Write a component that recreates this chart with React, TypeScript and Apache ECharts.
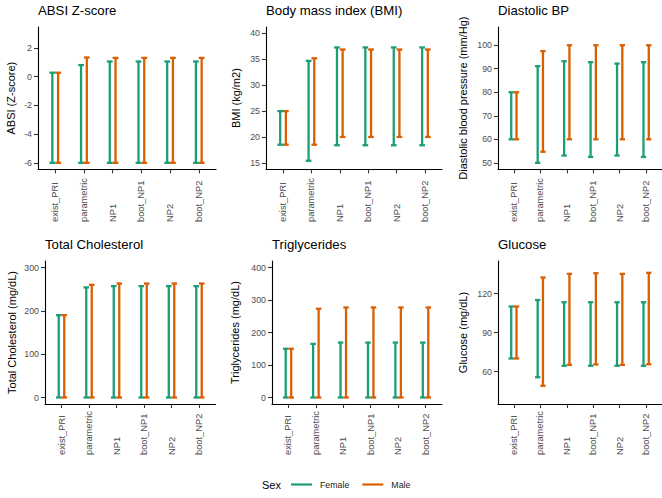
import React, { useEffect, useRef } from "react";
import * as echarts from "echarts";

const categories = ["exist_PRI", "parametric", "NP1", "boot_NP1", "NP2", "boot_NP2"];

// ABSI Z-score
const absiFemaleLow = [-6, -6, -6, -6, -6, -6];
const absiFemaleHigh = [0.27, 0.8, 1.05, 1.05, 1.05, 1.05];
const absiMaleLow = [-6, -6, -6, -6, -6, -6];
const absiMaleHigh = [0.27, 1.33, 1.3, 1.3, 1.3, 1.3];
const absiTicks = [-6, -4, -2, 0, 2];

// BMI
const bmiFemaleLow = [18.5, 15.4, 18.4, 18.4, 18.4, 18.4];
const bmiFemaleHigh = [25, 34.7, 37.3, 37.3, 37.3, 37.3];
const bmiMaleLow = [18.5, 18.5, 20, 20, 20, 20];
const bmiMaleHigh = [25, 35.2, 36.9, 36.9, 36.9, 36.9];
const bmiTicks = [15, 20, 25, 30, 35, 40];

// Diastolic BP
const dbpFemaleLow = [60, 50, 53.1, 52.5, 53.1, 52.5];
const dbpFemaleHigh = [80, 91.1, 93.2, 92.8, 92.2, 92.8];
const dbpMaleLow = [60, 54.7, 60, 60, 60, 60];
const dbpMaleHigh = [80, 97.5, 100, 100, 100, 100];
const dbpTicks = [50, 60, 70, 80, 90, 100];

// Total Cholesterol
const tcFemaleLow = [0, 0, 0, 0, 0, 0];
const tcFemaleHigh = [190, 254, 257, 257, 257, 257];
const tcMaleLow = [0, 0, 0, 0, 0, 0];
const tcMaleHigh = [190, 260, 263, 263, 263, 263];
const tcTicks = [0, 100, 200, 300];

// Triglycerides
const tgFemaleLow = [0, 0, 0, 0, 0, 0];
const tgFemaleHigh = [150, 165, 169, 169, 169, 169];
const tgMaleLow = [0, 0, 0, 0, 0, 0];
const tgMaleHigh = [150, 273, 277, 277, 277, 277];
const tgTicks = [0, 100, 200, 300, 400];

// Glucose
const gluFemaleLow = [70, 55.6, 64.4, 64.4, 64.4, 64.4];
const gluFemaleHigh = [110, 115, 113.3, 113.3, 113.3, 113.3];
const gluMaleLow = [70, 49, 65.1, 65.4, 65.1, 65.6];
const gluMaleHigh = [110, 132.3, 135.1, 135.6, 135.1, 135.9];
const gluTicks = [60, 90, 120];

const FEMALE = "#1B9E77";
const MALE = "#D95F02";
const FONT = "Liberation Sans, Arial, sans-serif";

const panels = [
  { title: "ABSI Z-score", yName: "ABSI (Z-score)", fl: absiFemaleLow, fh: absiFemaleHigh, ml: absiMaleLow, mh: absiMaleHigh, ticks: absiTicks, min: -6.45, max: 3.45, grid: { left: 38, top: 27, width: 178, height: 142.3 }, nameGap: 22, labelMargin: 52.7 },
  { title: "Body mass index (BMI)", yName: "BMI (kg/m2)", fl: bmiFemaleLow, fh: bmiFemaleHigh, ml: bmiMaleLow, mh: bmiMaleHigh, ticks: bmiTicks, min: 13.75, max: 41.25, grid: { left: 266, top: 27, width: 176, height: 142.3 }, nameGap: 25, labelMargin: 52.7 },
  { title: "Diastolic BP", yName: "Diastolic blood pressure (mm/Hg)", fl: dbpFemaleLow, fh: dbpFemaleHigh, ml: dbpMaleLow, mh: dbpMaleHigh, ticks: dbpTicks, min: 47.25, max: 107.75, grid: { left: 498, top: 27, width: 171.5, height: 142.3 }, nameGap: 30, labelMargin: 52.7 },
  { title: "Total Cholesterol", yName: "Total Cholesterol (mg/dL)", fl: tcFemaleLow, fh: tcFemaleHigh, ml: tcMaleLow, mh: tcMaleHigh, ticks: tcTicks, min: -15, max: 315, grid: { left: 45, top: 261, width: 170.5, height: 143 }, nameGap: 28, labelMargin: 51 },
  { title: "Triglycerides", yName: "Triglycerides (mg/dL)", fl: tgFemaleLow, fh: tgFemaleHigh, ml: tgMaleLow, mh: tgMaleHigh, ticks: tgTicks, min: -20, max: 420, grid: { left: 272, top: 261, width: 170, height: 143 }, nameGap: 32, labelMargin: 51 },
  { title: "Glucose", yName: "Glucose (mg/dL)", fl: gluFemaleLow, fh: gluFemaleHigh, ml: gluMaleLow, mh: gluMaleHigh, ticks: gluTicks, min: 35, max: 145, grid: { left: 498, top: 261, width: 171.5, height: 143 }, nameGap: 30, labelMargin: 51 },
];

const catIdx = categories.map((_, i) => i);

function makeRender(offset: number, color: string) {
  return (params: any, api: any) => {
    const x = api.value(0) + offset;
    const lo = api.coord([x, api.value(1)]);
    const hi = api.coord([x, api.value(2)]);
    const hw = api.size([0.1, 0])[0];
    const style = { stroke: color, lineWidth: 2.3, fill: null };
    return {
      type: "group",
      children: [
        { type: "line", shape: { x1: lo[0], y1: lo[1], x2: hi[0], y2: hi[1] }, style },
        { type: "line", shape: { x1: lo[0] - hw, y1: lo[1], x2: lo[0] + hw, y2: lo[1] }, style },
        { type: "line", shape: { x1: hi[0] - hw, y1: hi[1], x2: hi[0] + hw, y2: hi[1] }, style },
      ],
    };
  };
}

export default function App() {
  const ref = useRef<HTMLDivElement>(null);
  useEffect(() => {
    if (!ref.current) return;
    const chart = echarts.init(ref.current, null, { renderer: "svg" });
    const grids: any[] = [];
    const xAxes: any[] = [];
    const yAxes: any[] = [];
    const series: any[] = [];
    const titles: any[] = [];
    panels.forEach((p, i) => {
      grids.push({ ...p.grid, containLabel: false });
      titles.push({
        text: p.title,
        left: p.grid.left,
        top: p.grid.top - 23,
        padding: 0,
        textStyle: { fontFamily: FONT, fontSize: 13.2, fontWeight: "normal", color: "#000" },
      });
      xAxes.push({
        type: "value",
        gridIndex: i,
        min: -0.6,
        max: 5.6,
        splitLine: { show: false },
        axisLine: { show: true, onZero: false, lineStyle: { color: "#000", width: 1.1 } },
        axisTick: { show: true, length: 4, customValues: catIdx, lineStyle: { color: "#333", width: 1.1 } },
        axisLabel: {
          customValues: catIdx,
          rotate: 90,
          margin: p.labelMargin,
          align: "left",
          verticalAlign: "middle",
          fontFamily: FONT,
          fontSize: 9.3,
          color: "#4D4D4D",
          formatter: (v: number) => categories[Math.round(v)] ?? "",
        },
      });
      yAxes.push({
        type: "value",
        gridIndex: i,
        min: p.min,
        max: p.max,
        name: p.yName,
        nameLocation: "middle",
        nameGap: p.nameGap,
        nameTextStyle: { fontFamily: FONT, fontSize: 11, color: "#000" },
        splitLine: { show: false },
        axisLine: { show: true, onZero: false, lineStyle: { color: "#000", width: 1.1 } },
        axisTick: { show: true, length: 4, customValues: p.ticks, lineStyle: { color: "#333", width: 1.1 } },
        axisLabel: { customValues: p.ticks, margin: 6, fontFamily: FONT, fontSize: 8.8, color: "#4D4D4D" },
      });
      series.push({
        type: "custom",
        name: "Female",
        xAxisIndex: i,
        yAxisIndex: i,
        itemStyle: { color: FEMALE },
        encode: { x: 0, y: [1, 2] },
        data: catIdx.map((c) => [c, p.fl[c], p.fh[c]]),
        renderItem: makeRender(-0.1, FEMALE),
      });
      series.push({
        type: "custom",
        name: "Male",
        xAxisIndex: i,
        yAxisIndex: i,
        itemStyle: { color: MALE },
        encode: { x: 0, y: [1, 2] },
        data: catIdx.map((c) => [c, p.ml[c], p.mh[c]]),
        renderItem: makeRender(0.1, MALE),
      });
    });
    chart.setOption({
      animation: false,
      backgroundColor: "#fff",
      title: titles,
      grid: grids,
      xAxis: xAxes,
      yAxis: yAxes,
      series,
      legend: {
        data: ["Female", "Male"],
        left: 291,
        top: 480,
        padding: 0,
        icon: "rect",
        itemWidth: 21,
        itemHeight: 2.2,
        itemGap: 13,
        textStyle: { fontFamily: FONT, fontSize: 8.8, color: "#1a1a1a", padding: [0, 0, 0, 3] },
      },
      graphic: [
        {
          type: "text",
          left: 262,
          top: 479,
          style: { text: "Sex", fontFamily: FONT, fontSize: 11, fill: "#000" },
        },
      ],
    });
    return () => chart.dispose();
  }, []);
  return (
    <div
      ref={ref}
      style={{ position: "fixed", left: 0, top: 0, width: 662, height: 498, background: "#fff" }}
    />
  );
}
